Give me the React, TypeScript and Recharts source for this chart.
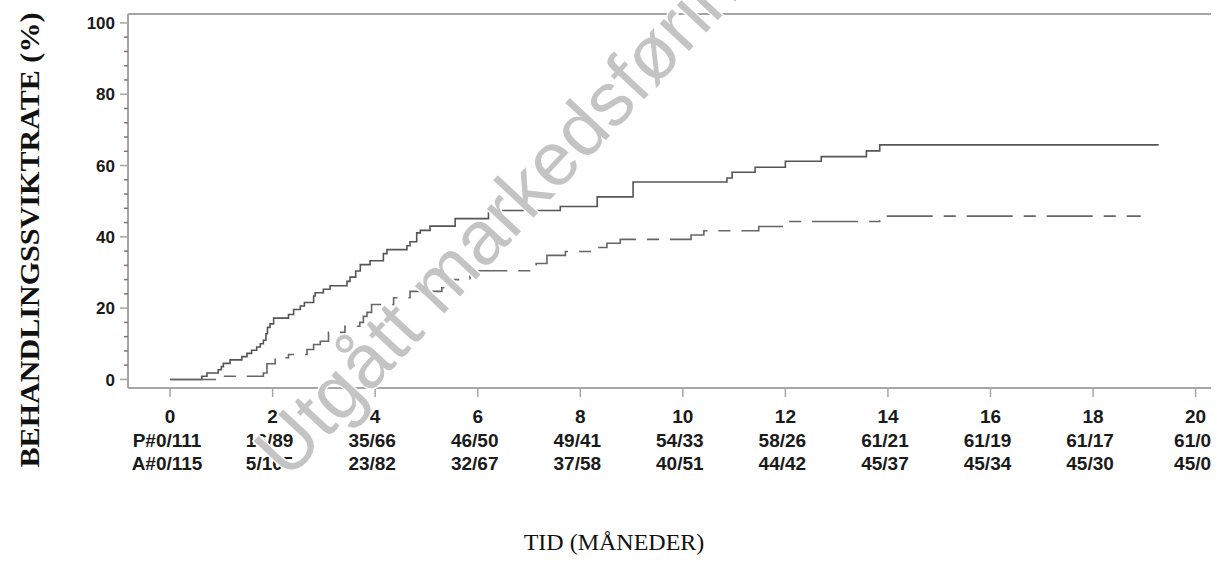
import { LineChart, Line, XAxis, YAxis, ReferenceLine } from 'recharts'

// P arm (solid) - time in months / failure rate in %
const pTimes = [
  0, 0.62, 0.72, 0.94, 1.0, 1.04, 1.17, 1.4, 1.5, 1.59, 1.69, 1.76, 1.82, 1.87, 1.9, 1.95, 2.02,
  2.31, 2.41, 2.54, 2.62, 2.8, 2.83, 2.99, 3.12, 3.45, 3.51, 3.62, 3.71, 3.9, 4.16, 4.23, 4.62,
  4.68, 4.81, 4.88, 5.07, 5.56, 6.21, 7.61, 8.33, 9.03, 10.86, 10.96, 11.41, 12.0, 12.7, 13.58,
  13.84, 19.28,
]
const pRates = [
  0, 0.9, 1.8, 2.7, 3.6, 4.5, 5.5, 6.4, 7.3, 8.2, 9.1, 10.0, 11.0, 12.8, 14.6, 15.6, 17.2,
  18.2, 19.6, 20.6, 21.6, 23.4, 24.3, 25.3, 26.3, 27.5, 28.7, 30.4, 32.2, 33.3, 35.3, 36.4, 37.5,
  38.6, 41.1, 41.8, 43.0, 45.1, 47.4, 48.5, 51.2, 55.4, 56.5, 58.1, 59.5, 61.2, 62.5, 64.1,
  65.8, 65.8,
]

// A arm (dashed)
const aTimes = [
  0, 0.94, 1.82, 1.89, 2.05, 2.31, 2.67, 2.8, 2.93, 3.09, 3.41, 3.7, 3.77, 3.84, 3.93, 4.36,
  4.68, 5.3, 5.53, 5.85, 7.14, 7.35, 7.71, 8.33, 8.52, 8.78, 10.16, 10.41, 11.48, 12.0, 13.84,
  18.93,
]
const aRates = [
  0, 0.9, 1.8, 4.4, 6.1, 7.0, 8.4, 9.8, 10.7, 13.2, 14.9, 16.0, 17.7, 18.8, 21.0, 22.9,
  24.7, 25.7, 28.0, 30.5, 32.5, 34.8, 35.9, 37.0, 38.2, 39.3, 40.5, 41.7, 42.9, 44.3, 45.8,
  45.8,
]

const xTicks = [0, 2, 4, 6, 8, 10, 12, 14, 16, 18, 20]
const pAtRisk = ['P#0/111', '16/89', '35/66', '46/50', '49/41', '54/33', '58/26', '61/21', '61/19', '61/17', '61/0']
const aAtRisk = ['A#0/115', '5/105', '23/82', '32/67', '37/58', '40/51', '44/42', '45/37', '45/34', '45/30', '45/0']
const yTicks = [0, 4, 8, 12, 16, 20, 24, 28, 32, 36, 40, 44, 48, 52, 56, 60, 64, 68, 72, 76, 80, 84, 88, 92, 96, 100]

const pData = pTimes.map((t, i) => ({ t, v: pRates[i] }))
const aData = aTimes.map((t, i) => ({ t, v: aRates[i] }))

const X_DOMAIN: [number, number] = [-0.82, 20.3]
const Y_DOMAIN: [number, number] = [-2.4, 102.5]

const AXIS = '#a6a6a6'
const SANS = '"Liberation Sans", Arial, sans-serif'
const SERIF = '"Liberation Serif", "Times New Roman", serif'

function XTick({ x, y, payload }: any) {
  const i = xTicks.indexOf(payload.value)
  const style = { fontFamily: SANS, fontSize: 19, fontWeight: 700, fill: '#1a1a1a' }
  return (
    <g>
      <line x1={x} x2={x} y1={y} y2={y + 9} stroke={AXIS} strokeWidth={1.5} />
      <text x={x} y={y + 35} textAnchor="middle" style={style}>{payload.value}</text>
      <text x={x - 3} y={y + 58.5} textAnchor="middle" style={style}>{pAtRisk[i]}</text>
      <text x={x - 3} y={y + 82} textAnchor="middle" style={style}>{aAtRisk[i]}</text>
    </g>
  )
}

function YTick({ x, y, payload }: any) {
  const major = payload.value % 20 === 0
  return (
    <g>
      <line
        x1={x - (major ? 8 : 4)}
        x2={x}
        y1={y}
        y2={y}
        stroke={major ? AXIS : '#8a7070'}
        strokeWidth={1.5}
      />
      {major && (
        <text
          x={x - 13}
          y={y}
          dy="0.36em"
          textAnchor="end"
          style={{ fontFamily: SANS, fontSize: 17, fontWeight: 700, fill: '#1a1a1a' }}
        >
          {payload.value}
        </text>
      )}
    </g>
  )
}

export default function App() {
  return (
    <div style={{ position: 'absolute', left: 0, top: 0, width: 1229, height: 566, background: '#fff' }}>
      <LineChart width={1229} height={566} margin={{ top: 14, right: 18, bottom: 88, left: 68 }}>
        <XAxis
          dataKey="t"
          type="number"
          domain={X_DOMAIN}
          ticks={xTicks}
          interval={0}
          allowDataOverflow
          height={90}
          tickSize={0}
          tickMargin={0}
          tickLine={false}
          axisLine={{ stroke: AXIS, strokeWidth: 2 }}
          tick={<XTick />}
        />
        <YAxis
          type="number"
          domain={Y_DOMAIN}
          ticks={yTicks}
          interval={0}
          allowDataOverflow
          width={60}
          tickSize={0}
          tickMargin={0}
          tickLine={false}
          axisLine={{ stroke: AXIS, strokeWidth: 2 }}
          tick={<YTick />}
        />
        <ReferenceLine y={Y_DOMAIN[1]} stroke={AXIS} strokeWidth={2} />
        <Line
          data={pData}
          dataKey="v"
          type="stepAfter"
          stroke="#555"
          strokeWidth={1.6}
          dot={false}
          isAnimationActive={false}
        />
        <Line
          data={aData}
          dataKey="v"
          type="stepAfter"
          stroke="#666"
          strokeWidth={1.6}
          strokeDasharray="46 11 12 11"
          dot={false}
          isAnimationActive={false}
        />
      </LineChart>
      <svg
        width={1229}
        height={566}
        style={{ position: 'absolute', left: 0, top: 0, pointerEvents: 'none' }}
      >
        <text
          transform="translate(39,240) rotate(-90)"
          textAnchor="middle"
          textLength={455}
          lengthAdjust="spacingAndGlyphs"
          style={{ fontFamily: SERIF, fontSize: 27, fontWeight: 700, fill: '#111' }}
        >
          BEHANDLINGSSVIKTRATE (%)
        </text>
        <text
          x={614}
          y={550}
          textAnchor="middle"
          style={{ fontFamily: SERIF, fontSize: 24, fill: '#111' }}
        >
          TID (MÅNEDER)
        </text>
        {/* watermark, runs off the top edge as in the source */}
        <text
          transform="translate(288,481) rotate(-47)"
          style={{
            fontFamily: SANS,
            fontSize: 76,
            fill: '#c4c4c4',
            stroke: '#fff',
            strokeWidth: 3,
            paintOrder: 'stroke',
          }}
        >
          Utgått markedsføring
        </text>
      </svg>
    </div>
  )
}
